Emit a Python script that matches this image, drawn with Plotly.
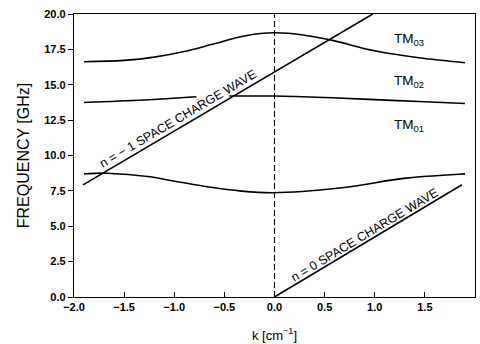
import plotly.graph_objects as go

# TM03 mode
tm03_k = [-1.9, -1.5, -1.2, -0.9, -0.6, -0.3, 0.0, 0.3, 0.6, 0.9, 1.2, 1.5, 1.9]
tm03_f = [16.63, 16.72, 16.95, 17.35, 17.9, 18.45, 18.67, 18.5, 18.1, 17.55, 17.15, 16.85, 16.56]
# TM02 mode (two pieces)
tm02a_k = [-1.9, -1.3, -0.78]
tm02a_f = [13.75, 13.92, 14.15]
tm02b_k = [-0.45, 0.0, 0.5, 1.0, 1.5, 1.9]
tm02b_f = [14.2, 14.2, 14.1, 13.95, 13.8, 13.68]
# TM01 mode
tm01_k = [-1.9, -1.67, -1.24, -1.01, -0.58, -0.35, -0.02, 0.65, 1.31, 1.84, 1.9]
tm01_f = [8.7, 8.75, 8.5, 8.2, 7.7, 7.5, 7.37, 7.7, 8.4, 8.68, 8.7]
# space charge waves
n0_k = [0.0, 1.87]
n0_f = [0.0, 7.93]
nm1_k = [-1.91, 0.98]
nm1_f = [7.92, 20.0]
# k = 0 marker
vline_k = [0, 0]
vline_f = [0, 20]

xticks = [-2.0, -1.5, -1.0, -0.5, 0.0, 0.5, 1.0, 1.5, 2.0]
yticks = [0.0, 2.5, 5.0, 7.5, 10.0, 12.5, 15.0, 17.5, 20.0]

fig = go.Figure()
for kk, ff, shp in [(tm03_k, tm03_f, "spline"), (tm02a_k, tm02a_f, "spline"),
                    (tm02b_k, tm02b_f, "spline"), (tm01_k, tm01_f, "spline"),
                    (n0_k, n0_f, "linear"), (nm1_k, nm1_f, "linear")]:
    fig.add_trace(go.Scatter(x=kk, y=ff, mode="lines",
                             line=dict(color="black", width=1.6, shape=shp),
                             showlegend=False, hoverinfo="skip"))
fig.add_trace(go.Scatter(x=vline_k, y=vline_f, mode="lines",
                         line=dict(color="black", width=1.1, dash="6px,3px"),
                         showlegend=False, hoverinfo="skip"))

FAM = "Liberation Sans, Arial, sans-serif"
tf = dict(family=FAM, size=12.5, color="black")
fig.add_annotation(x=-0.965, y=12.6, text="n = \u2212 1 SPACE CHARGE WAVE",
                   showarrow=False, textangle=-30.6, font=tf)
fig.add_annotation(x=0.9, y=4.4, text="n = 0 SPACE CHARGE WAVE",
                   showarrow=False, textangle=-31, font=tf)
lf = dict(family=FAM, size=13.5, color="black")
fig.add_annotation(x=1.34, y=18.2, text="TM<sub>03</sub>", showarrow=False, font=lf)
fig.add_annotation(x=1.34, y=15.2, text="TM<sub>02</sub>", showarrow=False, font=lf)
fig.add_annotation(x=1.34, y=12.1, text="TM<sub>01</sub>", showarrow=False, font=lf)

axfont = dict(family=FAM, size=11, color="black", weight="bold")
fig.update_layout(
    width=480, height=344,
    margin=dict(l=74, r=4, t=14, b=45),
    paper_bgcolor="white", plot_bgcolor="white",
    xaxis=dict(range=[-2, 2], tickvals=xticks, ticktext=[f"{v:.1f}".replace("-", "\u2212") for v in xticks],
               ticks="inside", ticklen=5, tickcolor="black", showgrid=False, zeroline=False,
               showline=True, linecolor="black", linewidth=1.3, mirror=True,
               tickfont=axfont,
               title=dict(text="k [cm<sup>\u22121</sup>]", font=dict(family=FAM, size=13, color="black"), standoff=18)),
    yaxis=dict(range=[0, 20], tickvals=yticks, ticktext=[f"{v:.1f}" for v in yticks],
               ticks="outside", ticklen=5, tickcolor="black", showgrid=False, zeroline=False,
               showline=True, linecolor="black", linewidth=1.3, mirror=True,
               tickfont=axfont,
               title=dict(text="FREQUENCY [GHz]", font=dict(family=FAM, size=16, color="black"), standoff=10)),
)
fig.write_html("out.html")
